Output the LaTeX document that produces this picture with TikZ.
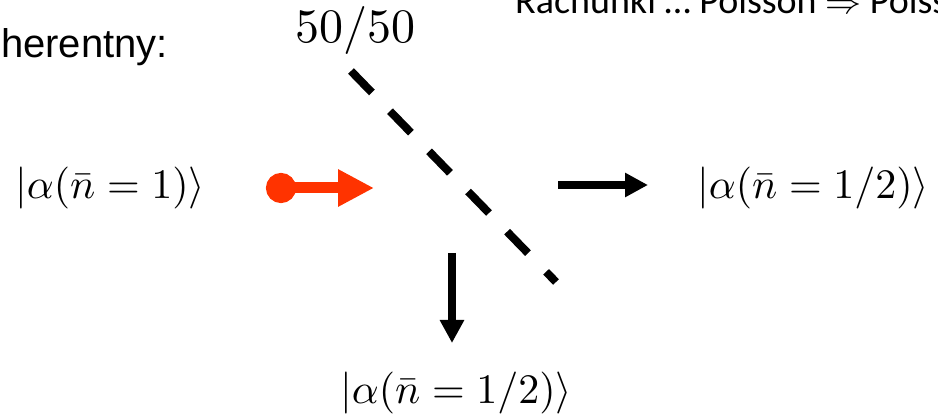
\documentclass[tikz,border=0pt]{standalone}
\usepackage{fontspec}
\usepackage{graphicx}
\newfontfamily\arialfont{Liberation Sans}
\newfontfamily\calibrifont{Carlito}
\usetikzlibrary{arrows.meta}
\definecolor{laser}{RGB}{255,51,0}
\newcommand{\ketbig}[1]{\scalebox{4.2}{$#1$}}
\newcommand{\implarrow}{{\fontsize{10}{12}\selectfont\scalebox{3.6}{$\Rightarrow$}}}

\begin{document}
\begin{tikzpicture}[x=1pt,y=-1pt,
  ket/.style={inner sep=0pt},
  slide/.style={inner sep=0pt,font=\arialfont\fontsize{40}{44}\selectfont},
  heading/.style={inner sep=0pt,font=\calibrifont\fontsize{38}{42}\selectfont},
  beam/.style={line width=7.5pt,-{Triangle[length=23pt,width=23pt]}},
  photon/.style={line width=11pt,laser,{Circle[length=30pt]}-{Triangle[length=36pt,width=35pt]}},
  splitter/.style={line width=8pt,dash pattern=on 30pt off 26pt}]

  % frame of the slide crop
  \clip (0,0) rectangle (938,414);

  % slide texts
  \node[slide,anchor=base east] (koh) at (168,58) {herentny:};
  \node[heading,anchor=base west] (calc) at (515,14) {Rachunki \ldots{} Poisson \implarrow{} Poisso};
  \node[ket,anchor=base] (bs) at (355,43) {\scalebox{4.8}{$50/50$}};

  % states
  \node[ket,anchor=base west] (inket) at (15,199) {\ketbig{|\alpha(\bar{n}=1)\rangle}};
  \node[ket,anchor=base west] (trket) at (697,199) {\ketbig{|\alpha(\bar{n}=1/2)\rangle}};
  \node[ket,anchor=base west] (rfket) at (340,403) {\ketbig{|\alpha(\bar{n}=1/2)\rangle}};

  % beam splitter
  \coordinate (bsa) at (351,71);
  \coordinate (bsb) at (556,282);
  \draw[splitter] (bsa) -- (bsb);

  % incoming and outgoing beams
  \coordinate (inA) at (266,188);
  \coordinate (inB) at (374,188);
  \coordinate (trA) at (558,185);
  \coordinate (trB) at (648,185);
  \coordinate (rfA) at (452,253);
  \coordinate (rfB) at (452,343);
  \draw[photon] (inA) -- (inB);
  \draw[beam] (trA) -- (trB);
  \draw[beam] (rfA) -- (rfB);

\end{tikzpicture}
\end{document}
